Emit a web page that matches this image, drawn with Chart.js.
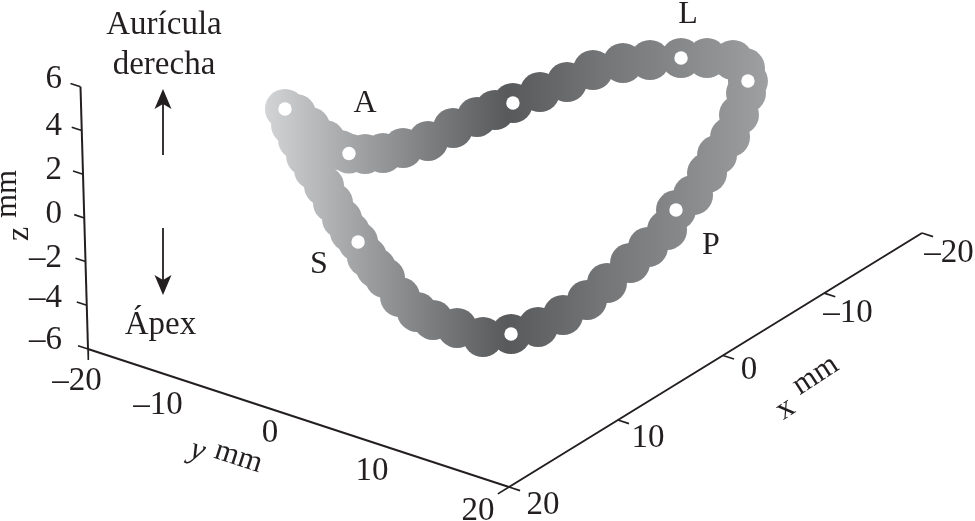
<!DOCTYPE html>
<html>
<head>
<meta charset="utf-8">
<style>
  html, body { margin: 0; background: #fff; }
  canvas { display: block; }
</style>
<script src="https://cdn.jsdelivr.net/npm/chart.js@4"></script>
</head>
<body>
<canvas id="annulus-chart" width="975" height="521"></canvas>
<script>
// ring positions in mm
const ringX = [12.51, 12.22, 12.41, 12.35, 12.21, 12.06, 11.37, 10.48, 9.12, 7.38, 5.25, 3.12, 1.81, 0.49, -1.78, -3.74, -6.12, -7.89, -9.15,
  -10.68, -11.82, -12.99, -12.78, -11.72, -10.83, -9.17, -7.44, -6.01, -4.68, -3.04, -1.80, -0.33, 1.17, 2.52, 4.44, 5.94, 7.37, 8.52,
  9.24, 10.88, 11.68, 12.52, 13.10, 13.24, 12.92, 13.08, 13.14, 12.80, 12.93, 12.76, 12.54, 12.44, 12.46, 12.62, 12.58, 12.61];
const ringY = [-8.45, -7.71, -6.21, -4.86, -3.60, -2.91, -2.09, -1.30, -0.79, -0.17, 0.07, 0.22, 0.63, 1.04, 1.38, 2.05, 2.23, 3.38, 4.75,
  6.25, 7.64, 9.00, 10.33, 11.60, 12.24, 13.12, 13.89, 14.00, 14.30, 14.53, 14.09, 14.65, 14.29, 13.89, 13.58, 13.16, 12.29, 11.05,
  9.19, 8.20, 6.58, 5.18, 4.28, 2.84, 1.11, 0.44, -0.33, -1.50, -2.11, -3.02, -4.07, -4.99, -5.88, -6.44, -7.21, -7.81];
const ringZ = [4.5, 4.3, 4, 3.6, 3.3, 3.2, 3.1, 3, 2.9, 2.8, 2.8, 2.7, 2.7, 2.7, 2.6, 2.6, 2.5, 2.5, 2.5,
  2.4, 2.3, 2.1, 2, 1.9, 1.7, 1.3, 0.9, 0.5, 0.1, -0.4, -0.8, -1.2, -1.6, -2, -2.4, -2.8, -3.2, -3.6,
  -4, -3.8, -3.4, -3, -2.6, -2.1, -1.6, -1.2, -0.8, -0.4, 0, 0.4, 0.9, 1.5, 2.1, 2.7, 3.3, 3.9];
// which ring samples carry a white marker
const markIndex = [0, 5, 13, 19, 23, 30, 38, 47];

const xTicks = [20, 10, 0, -10, -20];
const yEnds = [-20, 20];
const zTicks = [6, 4, 2, 0, -2, -4, -6];
const xLabels = ['20', '10', '0', '–10', '–20'];
const yLabels = ['–20', '–10', '0', '10', '20'];
const zLabels = ['6', '4', '2', '0', '–2', '–4', '–6'];

const ink = '#231f20';
const serif = '"Liberation Serif", serif';

// oblique view of the box, the x edge shrinks a little with distance
function project(x, y, z) {
  const t = (20 - x) / 40;
  const f = 40 * t * 1.075 / (1 + 0.075 * t);
  return {
    x: 88 + 10.525 * (y + 20) + 10.325 * f - 0.625 * (z + 6),
    y: 349 + 3.45 * (y + 20) - 6.35 * f - 21.85 * (z + 6)
  };
}

const canvas = document.getElementById('annulus-chart');
const ctx = canvas.getContext('2d');

const shade = ctx.createLinearGradient(265, 0, 770, 0);
shade.addColorStop(0, '#d3d4d6');
shade.addColorStop(0.17, '#a5a6a8');
shade.addColorStop(0.33, '#7c7d7f');
shade.addColorStop(0.48, '#58595b');
shade.addColorStop(0.66, '#737476');
shade.addColorStop(0.83, '#88898b');
shade.addColorStop(1, '#9fa0a2');

const ringPoints = ringX.map((x, i) => project(x, ringY[i], ringZ[i]));
const markPoints = markIndex.map((i) => ringPoints[i]);

function axisLine(from, to, width) {
  return {
    type: 'line',
    data: [project(...from), project(...to)],
    borderColor: ink,
    borderWidth: width,
    pointRadius: 0,
    order: 3
  };
}

const datasets = [
  { data: markPoints, pointRadius: 6.7, pointBackgroundColor: '#fff', pointBorderWidth: 0, pointBorderColor: 'rgba(0,0,0,0)', showLine: false, order: 0 },
  { data: ringPoints, pointRadius: 20, pointBackgroundColor: shade, pointBorderWidth: 0, pointBorderColor: 'rgba(0,0,0,0)', showLine: false, order: 1 },
  axisLine([20, -20, 6], [20, -20, -6], 2),
  axisLine([20, -20, -6], [20, 20, -6], 2),
  axisLine([20, 20, -6], [-20, 20, -6], 2)
];

// tick marks
xTicks.forEach((v) => datasets.push(axisLine([v, 20, -6], [v, 21.05, -6], 1.6)));
zTicks.forEach((v) => datasets.push(axisLine([20, -20, v], [20, -20.95, v], 1.6)));
datasets.push(axisLine([20, yEnds[0], -6], [20, yEnds[0], -6.5], 1.6));
datasets.push(axisLine([20, yEnds[1], -6], [21, yEnds[1], -6], 1.6));

// place a text on the scales, baseline at (px, py)
function put(c, s, px, py, opts = {}) {
  c.save();
  c.translate(px, py);
  if (opts.rot) c.rotate(opts.rot * Math.PI / 180);
  c.font = (opts.italic ? 'italic ' : '') + (opts.size || 33) + 'px ' + serif;
  c.fillStyle = ink;
  c.textAlign = opts.align || 'center';
  c.textBaseline = 'alphabetic';
  c.fillText(s, 0, 0);
  c.restore();
}

function arrow(c, x, fromY, tipY) {
  const dir = tipY > fromY ? -1 : 1;
  c.save();
  c.strokeStyle = ink;
  c.fillStyle = ink;
  c.lineWidth = 1.8;
  c.beginPath();
  c.moveTo(x, fromY);
  c.lineTo(x, tipY + dir * 14);
  c.stroke();
  c.beginPath();
  c.moveTo(x, tipY);
  c.lineTo(x + 8.5, tipY + dir * 20);
  c.lineTo(x, tipY + dir * 15);
  c.lineTo(x - 8.5, tipY + dir * 20);
  c.closePath();
  c.fill();
  c.restore();
}

const annotations = {
  id: 'annotations',
  afterDatasetsDraw(chart) {
    const c = chart.ctx;
    const sx = chart.scales.x;
    const sy = chart.scales.y;
    const at = (x, y) => [sx.getPixelForValue(x), sy.getPixelForValue(y)];

    const zSpots = [88, 135, 179, 223, 267, 307, 349];
    zLabels.forEach((s, i) => put(c, s, ...at(62, zSpots[i]), { align: 'right' }));

    const ySpots = [[77, 390], [158, 414], [270, 442], [372, 480], [478, 520]];
    yLabels.forEach((s, i) => put(c, s, ...at(...ySpots[i])));

    const xSpots = [[543, 514], [648, 447], [749, 379], [848, 322], [949, 262]];
    xLabels.forEach((s, i) => put(c, s, ...at(...xSpots[i])));

    put(c, 'z', ...at(28, 234), { rot: -90, size: 32 });
    put(c, 'mm', ...at(16, 194), { rot: -90, size: 31 });
    put(c, 'y', ...at(195, 459), { rot: 18, size: 32, italic: true });
    put(c, 'mm', ...at(236, 465), { rot: 18, size: 31 });
    put(c, 'x', ...at(790, 416), { rot: -33, size: 32 });
    put(c, 'mm', ...at(820, 382), { rot: -33, size: 31 });

    put(c, 'Aurícula', ...at(164, 34));
    put(c, 'derecha', ...at(164, 74));
    put(c, 'Ápex', ...at(160.5, 334));
    put(c, 'A', ...at(365, 112), { size: 32 });
    put(c, 'S', ...at(319, 273), { size: 32 });
    put(c, 'P', ...at(711, 254), { size: 32 });
    put(c, 'L', ...at(688, 23), { size: 32 });

    arrow(c, sx.getPixelForValue(163), sy.getPixelForValue(155), sy.getPixelForValue(89));
    arrow(c, sx.getPixelForValue(163), sy.getPixelForValue(228), sy.getPixelForValue(295));
  }
};

new Chart(ctx, {
  type: 'scatter',
  data: { datasets },
  options: {
    responsive: false,
    animation: false,
    events: [],
    layout: { padding: 0, autoPadding: false },
    plugins: { legend: { display: false }, tooltip: { enabled: false } },
    scales: {
      x: { type: 'linear', min: 0, max: 975, display: false },
      y: { type: 'linear', min: 0, max: 521, reverse: true, display: false }
    }
  },
  plugins: [annotations]
});
</script>
</body>
</html>
